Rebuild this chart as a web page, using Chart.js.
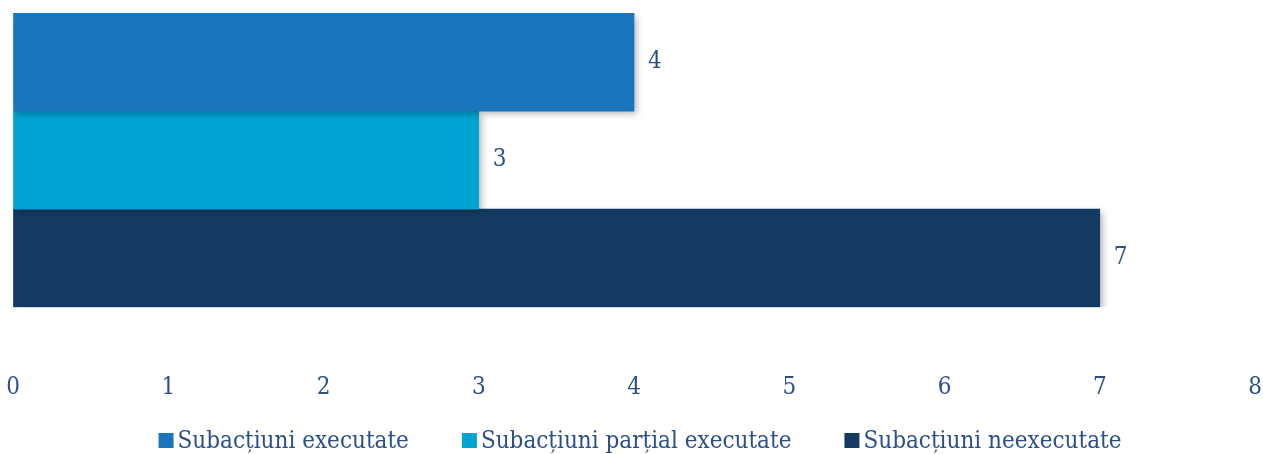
<!DOCTYPE html>
<html>
<head>
<meta charset="utf-8">
<script src="https://cdn.jsdelivr.net/npm/chart.js@4.4.0/dist/chart.umd.min.js"></script>
<style>
  html, body { margin: 0; padding: 0; background: #ffffff; }
  #wrap { width: 1263px; height: 454px; position: relative; }
</style>
</head>
<body>
<div id="wrap"><canvas id="myChart"></canvas></div>
<script>
// data
var categories = [''];
var seriesNames = ['Subacțiuni executate', 'Subacțiuni parțial executate', 'Subacțiuni neexecutate'];
var executate = [4];
var partialExecutate = [3];
var neexecutate = [7];
var xTicks = [0, 1, 2, 3, 4, 5, 6, 7, 8];

var colors = ['#1b75bc', '#00a3d1', '#153a61'];
var textColor = '#2c5086';
var fontFamily = "'DejaVu Serif Condensed', 'DejaVu Serif', serif";
var fontSize = 24;

// shadow under each bar
var shadowPlugin = {
  id: 'barShadow',
  beforeDatasetDraw: function(chart) {
    var c = chart.ctx;
    c.save();
    c.shadowColor = 'rgba(0,0,0,0.3)';
    c.shadowBlur = 7;
    c.shadowOffsetX = 3;
    c.shadowOffsetY = 3;
  },
  afterDatasetDraw: function(chart) {
    chart.ctx.restore();
  }
};

// value labels to the right of the bars
var valueLabels = {
  id: 'valueLabels',
  afterDatasetsDraw: function(chart) {
    var c = chart.ctx;
    c.save();
    c.font = fontSize + 'px ' + fontFamily;
    c.fillStyle = textColor;
    c.textAlign = 'left';
    c.textBaseline = 'middle';
    chart.data.datasets.forEach(function(ds, i) {
      chart.getDatasetMeta(i).data.forEach(function(bar, j) {
        c.fillText(ds.data[j], bar.x + 14, bar.y);
      });
    });
    c.restore();
  }
};

// legend at the bottom, square + text, drawn by hand so the spacing fits
var bottomLegend = {
  id: 'bottomLegend',
  afterDraw: function(chart) {
    var c = chart.ctx;
    var box = 15, gap = 4, itemGap = 53, y = 442;
    c.save();
    c.font = fontSize + 'px ' + fontFamily;
    c.textBaseline = 'middle';
    c.textAlign = 'left';
    var ds = chart.data.datasets;
    var widths = ds.map(function(d) { return c.measureText(d.label).width; });
    var total = 0;
    widths.forEach(function(w, i) { total += box + gap + w + (i ? itemGap : 0); });
    var x = 640 - total / 2;
    ds.forEach(function(d, i) {
      c.fillStyle = d.backgroundColor;
      c.fillRect(x, y - 9, box, box);
      c.fillStyle = textColor;
      c.fillText(d.label, x + box + gap, y);
      x += box + gap + widths[i] + itemGap;
    });
    c.restore();
  }
};

var ctx = document.getElementById('myChart').getContext('2d');

new Chart(ctx, {
  type: 'bar',
  data: {
    labels: categories,
    datasets: [
      { label: seriesNames[0], data: executate, backgroundColor: colors[0] },
      { label: seriesNames[1], data: partialExecutate, backgroundColor: colors[1] },
      { label: seriesNames[2], data: neexecutate, backgroundColor: colors[2] }
    ]
  },
  options: {
    indexAxis: 'y',
    responsive: true,
    maintainAspectRatio: false,
    animation: false,
    categoryPercentage: 1,
    barPercentage: 1,
    layout: { padding: { top: 13, left: 13, right: 8, bottom: 52 } },
    scales: {
      x: {
        min: 0,
        max: 8,
        afterBuildTicks: function(axis) {
          axis.ticks = xTicks.map(function(v) { return { value: v }; });
        },
        grid: {
          display: true,
          drawOnChartArea: false,
          drawTicks: true,
          tickLength: 66,
          color: 'rgba(0,0,0,0)'
        },
        border: { display: false },
        ticks: {
          color: textColor,
          padding: 0,
          font: { family: fontFamily, size: fontSize }
        }
      },
      y: { display: false }
    },
    plugins: {
      legend: { display: false },
      tooltip: { enabled: false }
    }
  },
  plugins: [shadowPlugin, valueLabels, bottomLegend]
});
</script>
</body>
</html>
